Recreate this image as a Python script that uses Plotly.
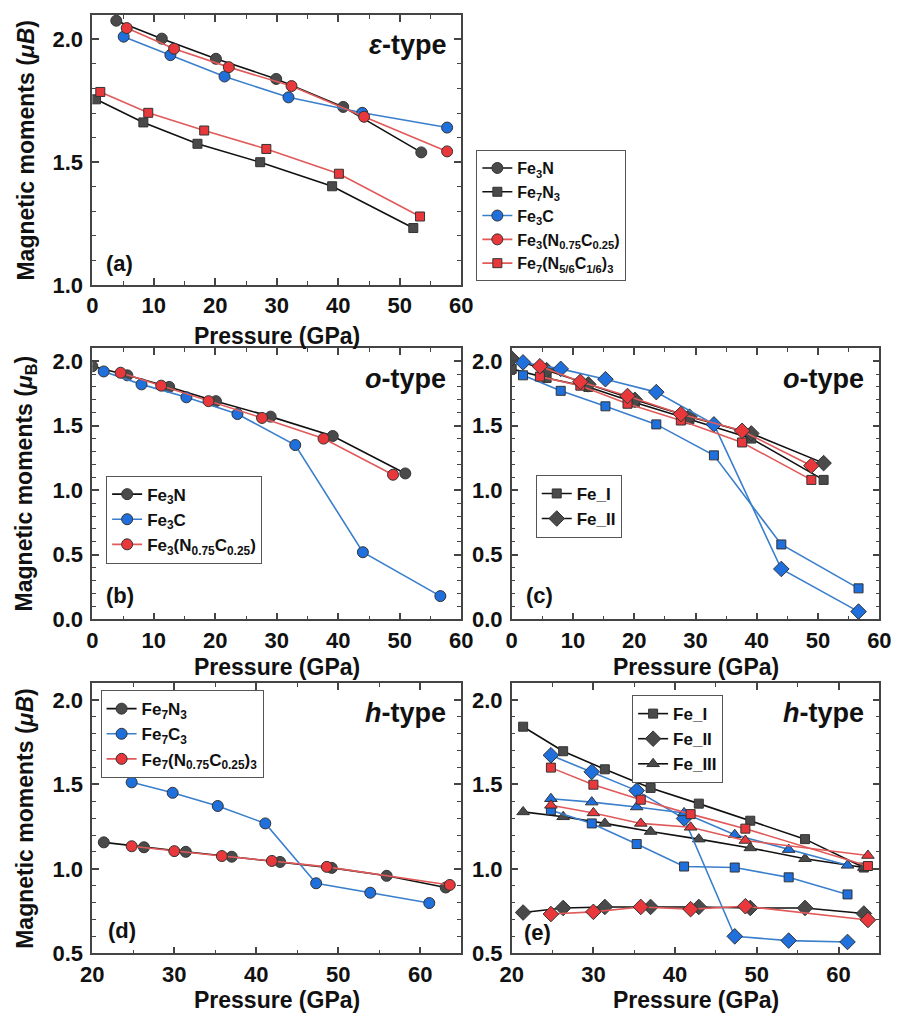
import plotly.graph_objects as go

W, H = 905, 1023

# ---------------- data ----------------
# (a) epsilon-type
a_fe3n_x = [3.9, 11.3, 20.1, 29.9, 40.8, 53.5]
a_fe3n_y = [2.076, 2.003, 1.921, 1.839, 1.725, 1.540]
a_fe7n3_x = [0.6, 8.3, 17.1, 27.3, 39.0, 52.2]
a_fe7n3_y = [1.756, 1.662, 1.575, 1.500, 1.402, 1.232]
a_fe3c_x = [5.1, 12.7, 21.5, 31.9, 43.9, 57.7]
a_fe3c_y = [2.011, 1.936, 1.849, 1.764, 1.701, 1.641]
a_fe3nc_x = [5.6, 13.3, 22.2, 32.4, 44.2, 57.7]
a_fe3nc_y = [2.046, 1.962, 1.887, 1.810, 1.685, 1.544]
a_fe7nc_x = [1.3, 9.1, 18.2, 28.3, 40.1, 53.3]
a_fe7nc_y = [1.786, 1.701, 1.629, 1.554, 1.453, 1.279]

# (b) o-type averages
o_fe3n_x = [0.0, 5.7, 12.5, 20.1, 29.0, 39.1, 50.9]
b_fe3n_y = [1.96, 1.89, 1.80, 1.69, 1.57, 1.42, 1.13]
o_fe3c_x = [1.85, 8.0, 15.3, 23.6, 33.0, 44.0, 56.6]
b_fe3c_y = [1.92, 1.82, 1.72, 1.59, 1.35, 0.52, 0.18]
o_nc_x = [4.6, 11.2, 18.9, 27.6, 37.6, 48.9]
b_nc_y = [1.91, 1.81, 1.69, 1.56, 1.40, 1.12]

# (c) o-type site resolved
c_fe3n_I = [1.94, 1.87, 1.80, 1.68, 1.55, 1.40, 1.08]
c_fe3n_II = [2.02, 1.93, 1.82, 1.70, 1.57, 1.44, 1.21]
c_fe3c_I = [1.89, 1.77, 1.65, 1.51, 1.27, 0.58, 0.24]
c_fe3c_II = [1.99, 1.94, 1.86, 1.76, 1.51, 0.39, 0.06]
c_nc_I = [1.88, 1.81, 1.67, 1.54, 1.37, 1.08]
c_nc_II = [1.96, 1.84, 1.73, 1.59, 1.46, 1.19]

# (d) h-type averages
h_fe7n3_x = [21.4, 26.3, 31.4, 37.0, 42.9, 49.2, 55.9, 63.1]
d_fe7n3_y = [1.157, 1.128, 1.101, 1.072, 1.041, 1.006, 0.959, 0.890]
h_fe7c3_x = [24.8, 29.8, 35.3, 41.1, 47.3, 53.9, 61.1]
d_fe7c3_y = [1.512, 1.450, 1.372, 1.269, 0.915, 0.859, 0.798]
h_nc_x = [24.8, 30.0, 35.8, 41.9, 48.6, 63.6]
d_nc_y = [1.134, 1.105, 1.076, 1.047, 1.012, 0.905]

# (e) h-type site resolved
e_fe7n3_I = [1.841, 1.696, 1.589, 1.479, 1.386, 1.285, 1.176, 1.008]
e_fe7n3_II = [0.742, 0.769, 0.775, 0.775, 0.775, 0.769, 0.769, 0.736]
e_fe7n3_III = [1.337, 1.308, 1.269, 1.221, 1.176, 1.124, 1.060, 1.008]
e_fe7c3_I = [1.347, 1.269, 1.147, 1.014, 1.008, 0.950, 0.849]
e_fe7c3_II = [1.672, 1.574, 1.463, 1.298, 0.601, 0.576, 0.568]
e_fe7c3_III = [1.415, 1.395, 1.366, 1.331, 1.202, 1.114, 1.021]
e_nc_I = [1.599, 1.498, 1.409, 1.324, 1.238, 1.017]
e_nc_II = [0.733, 0.746, 0.775, 0.762, 0.779, 0.698]
e_nc_III = [1.376, 1.331, 1.269, 1.246, 1.168, 1.079]

# ---------------- style ----------------
FONT = "Liberation Sans, Arial, sans-serif"
DARK_M, DARK_L = "#4a4a4a", "#111111"
BLUE_M, BLUE_L = "#1f6fdc", "#3a7fcc"
RED_M, RED_L = "#e8383c", "#e05a5a"
OUTLINE = "#333333"
AX = "#444444"

def px(x):
    return x / W

def py(y):
    return 1 - y / H

fig = go.Figure()

def add(x, y, xa, ya, mcol, lcol, sym, name, legend=None, size=None):
    sizes = {"circle": 11, "square": 9, "diamond": 12, "triangle-up": 11}
    fig.add_trace(go.Scatter(
        x=x, y=y, xaxis=xa, yaxis=ya, mode="lines+markers", name=name,
        line=dict(color=lcol, width=1.6),
        marker=dict(symbol=sym, size=size or sizes[sym], color=mcol,
                    line=dict(color=OUTLINE, width=1)),
        showlegend=legend is not None, legend=legend or "legend",
    ))

# (a)
add(a_fe3n_x, a_fe3n_y, "x", "y", DARK_M, DARK_L, "circle", "Fe<sub>3</sub>N", "legend")
add(a_fe7n3_x, a_fe7n3_y, "x", "y", DARK_M, DARK_L, "square", "Fe<sub>7</sub>N<sub>3</sub>", "legend")
add(a_fe3c_x, a_fe3c_y, "x", "y", BLUE_M, BLUE_L, "circle", "Fe<sub>3</sub>C", "legend")
add(a_fe3nc_x, a_fe3nc_y, "x", "y", RED_M, RED_L, "circle",
    "Fe<sub>3</sub>(N<sub>0.75</sub>C<sub>0.25</sub>)", "legend")
add(a_fe7nc_x, a_fe7nc_y, "x", "y", RED_M, RED_L, "square",
    "Fe<sub>7</sub>(N<sub>5/6</sub>C<sub>1/6</sub>)<sub>3</sub>", "legend")

# (b)
add(o_fe3n_x, b_fe3n_y, "x2", "y2", DARK_M, DARK_L, "circle", "Fe<sub>3</sub>N", "legend2")
add(o_fe3c_x, b_fe3c_y, "x2", "y2", BLUE_M, BLUE_L, "circle", "Fe<sub>3</sub>C", "legend2")
add(o_nc_x, b_nc_y, "x2", "y2", RED_M, RED_L, "circle",
    "Fe<sub>3</sub>(N<sub>0.75</sub>C<sub>0.25</sub>)", "legend2")

# (c)
add(o_fe3n_x, c_fe3n_I, "x3", "y3", DARK_M, DARK_L, "square", "Fe_I", "legend3")
add(o_fe3n_x, c_fe3n_II, "x3", "y3", DARK_M, DARK_L, "diamond", "Fe_II", "legend3")
add(o_fe3c_x, c_fe3c_I, "x3", "y3", BLUE_M, BLUE_L, "square", "Fe3C Fe_I")
add(o_fe3c_x, c_fe3c_II, "x3", "y3", BLUE_M, BLUE_L, "diamond", "Fe3C Fe_II")
add(o_nc_x, c_nc_I, "x3", "y3", RED_M, RED_L, "square", "NC Fe_I")
add(o_nc_x, c_nc_II, "x3", "y3", RED_M, RED_L, "diamond", "NC Fe_II")

# (d)
add(h_fe7n3_x, d_fe7n3_y, "x4", "y4", DARK_M, DARK_L, "circle", "Fe<sub>7</sub>N<sub>3</sub>", "legend4")
add(h_fe7c3_x, d_fe7c3_y, "x4", "y4", BLUE_M, BLUE_L, "circle", "Fe<sub>7</sub>C<sub>3</sub>", "legend4")
add(h_nc_x, d_nc_y, "x4", "y4", RED_M, RED_L, "circle",
    "Fe<sub>7</sub>(N<sub>0.75</sub>C<sub>0.25</sub>)<sub>3</sub>", "legend4")

# (e)
add(h_fe7n3_x, e_fe7n3_I, "x5", "y5", DARK_M, DARK_L, "square", "Fe_I", "legend5")
add(h_fe7n3_x, e_fe7n3_II, "x5", "y5", DARK_M, DARK_L, "diamond", "Fe_II", "legend5")
add(h_fe7n3_x, e_fe7n3_III, "x5", "y5", DARK_M, DARK_L, "triangle-up", "Fe_III", "legend5")
add(h_fe7c3_x, e_fe7c3_I, "x5", "y5", BLUE_M, BLUE_L, "square", "Fe7C3 Fe_I")
add(h_fe7c3_x, e_fe7c3_II, "x5", "y5", BLUE_M, BLUE_L, "diamond", "Fe7C3 Fe_II")
add(h_fe7c3_x, e_fe7c3_III, "x5", "y5", BLUE_M, BLUE_L, "triangle-up", "Fe7C3 Fe_III")
add(h_nc_x, e_nc_I, "x5", "y5", RED_M, RED_L, "square", "NC Fe_I")
add(h_nc_x, e_nc_II, "x5", "y5", RED_M, RED_L, "diamond", "NC Fe_II")
add(h_nc_x, e_nc_III, "x5", "y5", RED_M, RED_L, "triangle-up", "NC Fe_III")

# ---------------- axes ----------------
COL1 = (82.5, 461.5)
COL2 = (513.3, 891.0)
ROWA = (15.0, 288.7)
ROWB = (352.7, 627.3)
ROWD = (691.7, 965.7)

TICKFONT = dict(family=FONT, size=22, color="#111", weight="bold")

def xaxis(col, rng, anchor):
    return dict(domain=[px(col[0]), px(col[1])], range=rng, anchor=anchor,
                dtick=10, ticks="inside", ticklen=7, tickwidth=1.5, tickcolor=AX,
                minor=dict(dtick=5, ticks="inside", ticklen=4, tickwidth=1.3, tickcolor=AX),
                showline=True, linecolor=AX, linewidth=1.6, mirror="allticks",
                showgrid=False, zeroline=False, ticklabelstandoff=0,
                tickfont=TICKFONT)

def yaxis(row, rng, anchor):
    return dict(domain=[py(row[1]), py(row[0])], range=rng, anchor=anchor,
                dtick=0.5, tickformat=".1f", ticks="inside", ticklen=7, tickwidth=1.5, tickcolor=AX,
                minor=dict(dtick=0.1, ticks="inside", ticklen=4, tickwidth=1.3, tickcolor=AX),
                showline=True, linecolor=AX, linewidth=1.6, mirror="allticks",
                showgrid=False, zeroline=False, ticklabelstandoff=3,
                tickfont=TICKFONT)

layout = dict(
    width=W, height=H, margin=dict(l=0, r=0, t=0, b=0),
    paper_bgcolor="white", plot_bgcolor="white",
    font=dict(family=FONT, color="#111"),
    xaxis=xaxis(COL1, [0, 60], "y"), yaxis=yaxis(ROWA, [1.0, 2.1], "x"),
    xaxis2=xaxis(COL1, [0, 60], "y2"), yaxis2=yaxis(ROWB, [0, 2.1], "x2"),
    xaxis3=xaxis(COL2, [0, 60], "y3"), yaxis3=yaxis(ROWB, [0, 2.1], "x3"),
    xaxis4=xaxis(COL1, [20, 65], "y4"), yaxis4=yaxis(ROWD, [0.5, 2.1], "x4"),
    xaxis5=xaxis(COL2, [20, 65], "y5"), yaxis5=yaxis(ROWD, [0.5, 2.1], "x5"),
    showlegend=True,
)

def legend(x, y, size=17):
    return dict(x=px(x), y=py(y), xanchor="left", yanchor="top",
                bgcolor="white", bordercolor="#555", borderwidth=1,
                font=dict(family=FONT, size=size, color="#111", weight="bold"),
                tracegroupgap=0, itemwidth=30)

layout["legend"] = legend(477, 152, 16)
layout["legend2"] = legend(96.7, 481.7)
layout["legend3"] = legend(538, 481)
layout["legend4"] = legend(91, 699)
layout["legend5"] = legend(637, 704)

fig.update_layout(**layout)

ann = []
def text(x, y, t, size, xanchor="center", angle=0):
    ann.append(dict(x=px(x), y=py(y), xref="paper", yref="paper", text=t,
                    showarrow=False, xanchor=xanchor, yanchor="middle", textangle=angle,
                    font=dict(family=FONT, size=size, color="#111", weight="bold")))

# x titles
c1 = (COL1[0] + COL1[1]) / 2
c2 = (COL2[0] + COL2[1]) / 2
text(c1, 340, "Pressure (GPa)", 23)
text(c1, 676, "Pressure (GPa)", 23)
text(c2, 676, "Pressure (GPa)", 23)
text(c1, 1013, "Pressure (GPa)", 23)
text(c2, 1013, "Pressure (GPa)", 23)
# y titles
YT = 14
text(YT, (ROWA[0] + ROWA[1]) / 2, "Magnetic moments (<i>μB</i>)", 23, angle=-90)
text(YT, (ROWB[0] + ROWB[1]) / 2, "Magnetic moments (<i>μ</i><sub>B</sub>)", 23, angle=-90)
text(YT, (ROWD[0] + ROWD[1]) / 2, "Magnetic moments (<i>μB</i>)", 23, angle=-90)
# type labels
text(448, 46, "<i>ε</i>-type", 27, xanchor="right")
text(448, 384, "<i>o</i>-type", 27, xanchor="right")
text(877, 384, "<i>o</i>-type", 27, xanchor="right")
text(448, 722, "<i>h</i>-type", 27, xanchor="right")
text(877, 722, "<i>h</i>-type", 27, xanchor="right")
# panel labels
text(94, 267, "(a)", 22, xanchor="left")
text(95, 603, "(b)", 22, xanchor="left")
text(526, 603, "(c)", 22, xanchor="left")
text(97, 942, "(d)", 22, xanchor="left")
text(524, 945, "(e)", 22, xanchor="left")

fig.update_layout(annotations=ann)
fig.write_html("out.html")
